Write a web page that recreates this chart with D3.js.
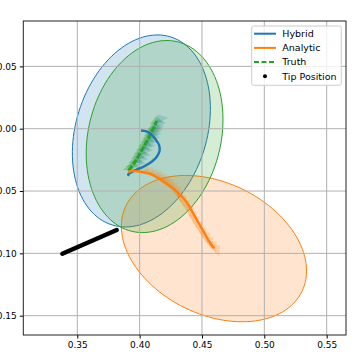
<!DOCTYPE html>
<html>
<head>
<meta charset="utf-8">
<script src="https://cdn.jsdelivr.net/npm/d3@7"></script>
<style>
body { margin: 0; background: #fff; }
text { font-family: "DejaVu Sans", sans-serif; font-size: 9px; fill: #000; }
</style>
</head>
<body>
<script>
// trajectories [x, y]
var hybrid = [[0.3919,-0.0375],[0.3907,-0.0367],[0.3931,-0.0351],[0.3971,-0.0331],[0.4030,-0.0305],[0.4097,-0.0265],
  [0.4136,-0.0227],[0.4160,-0.0179],[0.4156,-0.0131],[0.4137,-0.0099],[0.4099,-0.0051],[0.4055,-0.0022],[0.4011,-0.0014]];
var analytic = [[0.3909,-0.0350],[0.3937,-0.0339],[0.4003,-0.0345],[0.4083,-0.0363],[0.4150,-0.0398],[0.4217,-0.0444],
  [0.4298,-0.0505],[0.4364,-0.0572],[0.4391,-0.0612],[0.4444,-0.0706],[0.4498,-0.0799],[0.4551,-0.0893],[0.4597,-0.0959]];
var truth = [[0.3911,-0.0335],[0.3947,-0.0291],[0.3990,-0.0219],[0.4027,-0.0155],[0.4063,-0.0091],[0.4091,-0.0034],
  [0.4118,0.0016],[0.4136,0.0062]];
// orientation markers
var hybridMarks = [[0.3987,-0.0275],[0.4007,-0.0243],[0.4027,-0.0211],[0.4047,-0.0175],[0.4067,-0.0139],[0.4083,-0.0107],
  [0.4099,-0.0075],[0.4112,-0.0046],[0.4124,-0.0018],[0.4136,0.0010],[0.4148,0.0038],[0.4164,0.0078]];
var analyticMarks = [[0.4043,-0.0331],[0.4084,-0.0347],[0.4124,-0.0363],[0.4156,-0.0379],[0.4188,-0.0395],[0.4216,-0.0415],
  [0.4244,-0.0436],[0.4268,-0.0464],[0.4292,-0.0492],[0.4316,-0.0528],[0.4340,-0.0564],[0.4368,-0.0604],[0.4396,-0.0645],
  [0.4420,-0.0688],[0.4444,-0.0732],[0.4472,-0.0776],[0.4500,-0.0821],[0.4528,-0.0861],[0.4557,-0.0901],[0.4585,-0.0933],
  [0.4613,-0.0965]];
var truthMarks = [[0.3925,-0.0318],[0.3947,-0.0291],[0.3968,-0.0255],[0.3990,-0.0219],[0.4008,-0.0187],[0.4027,-0.0155],
  [0.4045,-0.0123],[0.4063,-0.0091],[0.4077,-0.0062],[0.4091,-0.0034],[0.4105,-0.0009],[0.4118,0.0016],[0.4136,0.0062]];
var tipPosition = [[0.3380,-0.1003],[0.3816,-0.0813]];
// ellipses: center x, center y, semi-major, semi-minor, angle (deg)
var ellipseHybrid = [0.4014, -0.0018, 0.0790, 0.0525, 72.7];
var ellipseTruth = [0.4120, -0.0063, 0.0782, 0.0532, 76.5];
var ellipseAnalytic = [0.4596, -0.0962, 0.0785, 0.0529, -26];
var xTicks = [0.35, 0.40, 0.45, 0.50, 0.55];
var yTicks = [0.05, 0.00, -0.05, -0.10, -0.15];
var labels = ["Hybrid", "Analytic", "Truth", "Tip Position"];

var blue = "#1f77b4", orange = "#ff7f0e", green = "#2ca02c";
var W = 359, H = 359;
var svg = d3.select("body").append("svg").attr("width", W).attr("height", H);

var x = d3.scaleLinear().domain([0.3067, 0.5655]).range([23.3, 346]);
var y = d3.scaleLinear().domain([-0.1655, 0.0864]).range([335, 21]);

svg.append("clipPath").attr("id", "clip").append("rect")
  .attr("x", 23.3).attr("y", 21).attr("width", 346 - 23.3).attr("height", 335 - 21);
var plot = svg.append("g").attr("clip-path", "url(#clip)");

function ellipsePoints(e) {
  var pts = [], th = e[4] * Math.PI / 180;
  for (var i = 0; i <= 120; i++) {
    var t = i / 120 * 2 * Math.PI;
    pts.push([e[0] + e[2] * Math.cos(t) * Math.cos(th) - e[3] * Math.sin(t) * Math.sin(th),
              e[1] + e[2] * Math.cos(t) * Math.sin(th) + e[3] * Math.sin(t) * Math.cos(th)]);
  }
  return pts;
}
var line = d3.line().x(function(d) { return x(d[0]); }).y(function(d) { return y(d[1]); });

[[ellipseHybrid, blue], [ellipseAnalytic, orange], [ellipseTruth, green]].forEach(function(p) {
  plot.append("path").attr("d", line(ellipsePoints(p[0])) + "Z")
    .attr("fill", p[1]).attr("fill-opacity", 0.2)
    .attr("stroke", p[1]).attr("stroke-width", 1);
});

// grid
plot.selectAll(".gx").data(xTicks).enter().append("line")
  .attr("x1", x).attr("x2", x).attr("y1", 21).attr("y2", 335)
  .attr("stroke", "#b0b0b0").attr("stroke-width", 1);
plot.selectAll(".gy").data(yTicks).enter().append("line")
  .attr("y1", y).attr("y2", y).attr("x1", 23.3).attr("x2", 346)
  .attr("stroke", "#b0b0b0").attr("stroke-width", 1);

// orientation markers (chevrons pointing to the left of travel)
function marks(data, color, size, op, turn) {
  var tri = d3.symbol().type(d3.symbolTriangle).size(size);
  plot.append("g").selectAll("path").data(data).enter().append("path")
    .attr("d", tri)
    .attr("transform", function(d, i) {
      var n = data[Math.min(i + 1, data.length - 1)], p = data[Math.max(i - 1, 0)];
      var a = Math.atan2(y(n[1]) - y(p[1]), x(n[0]) - x(p[0])) * 180 / Math.PI + turn;
      return "translate(" + x(d[0]) + "," + y(d[1]) + ") rotate(" + a + ") scale(1.5,0.9)";
    })
    .attr("fill", color).attr("fill-opacity", op);
}
marks(hybridMarks, blue, 45, 0.2, 40);
marks(analyticMarks, orange, 50, 0.2, 0);
marks(truthMarks, green, 40, 0.3, 60);

plot.append("path").attr("d", line(tipPosition)).attr("fill", "none")
  .attr("stroke", "#000").attr("stroke-width", 4.5).attr("stroke-linecap", "round");

plot.append("path").attr("d", line(truth)).attr("fill", "none")
  .attr("stroke", green).attr("stroke-width", 3).attr("stroke-dasharray", "6,1.5");
plot.append("path").attr("d", line.curve(d3.curveCatmullRom)(hybrid)).attr("fill", "none")
  .attr("stroke", blue).attr("stroke-width", 2.4).attr("stroke-linejoin", "round");
plot.append("path").attr("d", line(analytic)).attr("fill", "none")
  .attr("stroke", orange).attr("stroke-width", 2.4).attr("stroke-linejoin", "round");
line.curve(d3.curveLinear);

// axes
var xAxis = svg.append("g").attr("transform", "translate(0,335)")
  .call(d3.axisBottom(x).tickValues(xTicks).tickFormat(d3.format(".2f")).tickSize(3.5).tickPadding(3));
var yAxis = svg.append("g").attr("transform", "translate(23.3,0)")
  .call(d3.axisLeft(y).tickValues(yTicks).tickFormat(function(d) { return d3.format(".2f")(d).replace("-", "\u2212"); }).tickSize(3.5).tickPadding(3));
[xAxis, yAxis].forEach(function(a) {
  a.select(".domain").remove();
  a.selectAll("text").style("font-family", "DejaVu Sans").style("font-size", "9px").attr("fill", "#000");
  a.selectAll("line").attr("stroke", "#000");
});
svg.append("rect").attr("x", 23.3).attr("y", 21).attr("width", 346 - 23.3).attr("height", 335 - 21)
  .attr("fill", "none").attr("stroke", "#222").attr("stroke-width", 1);

// legend
var lg = svg.append("g");
lg.append("rect").attr("x", 251.7).attr("y", 26).attr("width", 89.6).attr("height", 59.3).attr("rx", 2)
  .attr("fill", "#fff").attr("fill-opacity", 0.8).attr("stroke", "#ccc").attr("stroke-width", 1);
var colors = [blue, orange, green, "#000"];
labels.forEach(function(l, i) {
  var yy = 33.7 + i * 14.2;
  if (i < 3) {
    lg.append("line").attr("x1", 254).attr("x2", 276).attr("y1", yy).attr("y2", yy)
      .attr("stroke", colors[i]).attr("stroke-width", 2)
      .attr("stroke-dasharray", i === 2 ? "5,2.5" : null);
  } else {
    lg.append("circle").attr("cx", 265).attr("cy", yy).attr("r", 2).attr("fill", "#000");
  }
  lg.append("text").attr("x", 282.3).attr("y", yy + 3.3).style("font-size", "9.5px").text(l);
});
</script>
</body>
</html>
